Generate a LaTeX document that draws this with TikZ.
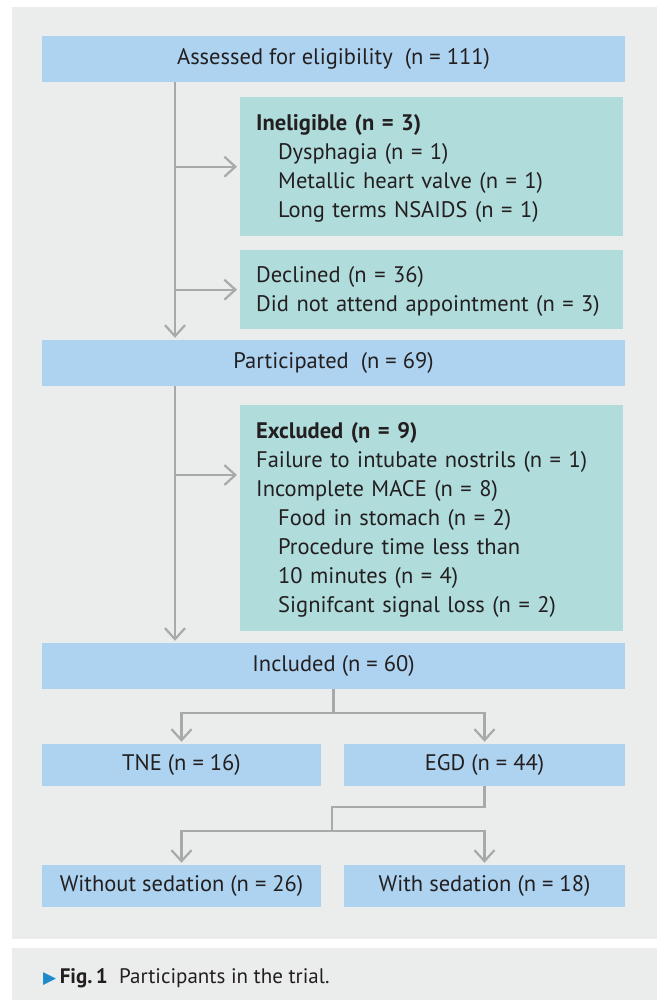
\documentclass[tikz,border=0pt]{standalone}
\usepackage{fontspec}
\setmainfont{PT Sans}
\newfontfamily\symfont{DejaVu Sans}
\usetikzlibrary{arrows.meta,calc}
\definecolor{panelbg}{HTML}{EBEDED}
\definecolor{bluebox}{HTML}{ADD3F0}
\definecolor{tealbox}{HTML}{B0DCDB}
\definecolor{linegray}{HTML}{A8A9AB}
\definecolor{txt}{HTML}{231F20}
\definecolor{capblue}{HTML}{1F8AC9}
\newcommand{\ind}{\hspace*{22pt}}
\newcommand{\topstrut}{\rule{0pt}{19pt}}
\begin{document}
\begin{tikzpicture}[x=1pt,y=-1pt,
  boxfont/.style={font=\fontsize{22.5}{29}\selectfont},
  mainbox/.style={boxfont, fill=bluebox, draw=none, inner sep=0pt, text=txt},
  sidebox/.style={boxfont, fill=tealbox, draw=none, inner xsep=16pt, inner ysep=0pt, text=txt,
     align=left, text width=351pt, minimum width=383pt, anchor=north west},
  conn/.style={draw=linegray, line width=2.2pt},
  arr/.style={conn, -{Straight Barb[length=11pt,width=20pt,line width=2.2pt]}, shorten >=2pt}]
\useasboundingbox (0,0) rectangle (657,1000);
\fill[white] (0,0) rectangle (657,1000);
\fill[panelbg] (12,7) rectangle (657,939);
\fill[panelbg] (12,948) rectangle (657,1000);

% main boxes
\node[mainbox, minimum width=583pt, minimum height=46pt] (ass) at (333.5,59) {Assessed for eligibility\ \ (n = 111)};
\node[mainbox, minimum width=583pt, minimum height=46pt] (par) at (333.5,363) {Participated\ \ (n = 69)};
\node[mainbox, minimum width=583pt, minimum height=46pt] (inc) at (333.5,666) {Included (n = 60)};
\node[mainbox, minimum width=279pt, minimum height=42pt] (tne) at (181.5,765) {TNE (n = 16)};
\node[mainbox, minimum width=281pt, minimum height=42pt] (egd) at (484.5,765) {EGD (n = 44)};
\node[mainbox, minimum width=279pt, minimum height=42pt] (wo) at (181.5,886) {Without sedation (n = 26)};
\node[mainbox, minimum width=281pt, minimum height=42pt] (wi) at (484.5,886) {With sedation (n = 18)};

% side boxes
\node[sidebox, minimum height=139pt] (ine) at (240,97) {\topstrut\textbf{Ineligible (n = 3)}\\
\ind Dysphagia (n = 1)\\
\ind Metallic heart valve (n = 1)\\
\ind Long terms NSAIDS (n = 1)};
\node[sidebox, minimum height=79pt] (dec) at (240,250) {\topstrut Declined (n = 36)\\
Did not attend appointment (n = 3)};
\node[sidebox, minimum height=226pt] (exc) at (240,405) {\topstrut\textbf{Excluded (n = 9)}\\
Failure to intubate nostrils (n = 1)\\
Incomplete MACE (n = 8)\\
\ind Food in stomach (n = 2)\\
\ind Procedure time less than\\
\ind 10 minutes (n = 4)\\
\ind Signifcant signal loss (n = 2)};

% connectors
\coordinate (vx) at (175,0);
\coordinate (exa) at (240,475);
\draw[arr] (ass.south -| vx) -- (par.north -| vx);
\draw[arr, shorten >=3pt] (ine.west -| vx) -- (ine.west);
\draw[arr, shorten >=3pt] (dec.west -| vx) -- (dec.west);
\draw[arr] (par.south -| vx) -- (inc.north -| vx);
\draw[arr, shorten >=3pt] (exa -| vx) -- (exa);

\draw[conn] (inc.south) -- ++(0,24) coordinate (f1);
\draw[arr] (f1) -| (tne.north);
\draw[arr] (f1) -| (egd.north);

\coordinate (g1) at (332,831);
\draw[conn] (egd.south) -- ++(0,21) -| (g1);
\draw[arr] (g1) -| (wo.north);
\draw[arr] (g1) -| (wi.north);

% caption
\node[anchor=base west, inner sep=0pt, text=txt, font=\fontsize{21}{24}\selectfont] (cap) at (43,983)
  {{\symfont\fontsize{17}{18}\selectfont\color{capblue}▶}\,\textbf{Fig.\,1}\ \ Participants in the trial.};
\end{tikzpicture}
\end{document}
